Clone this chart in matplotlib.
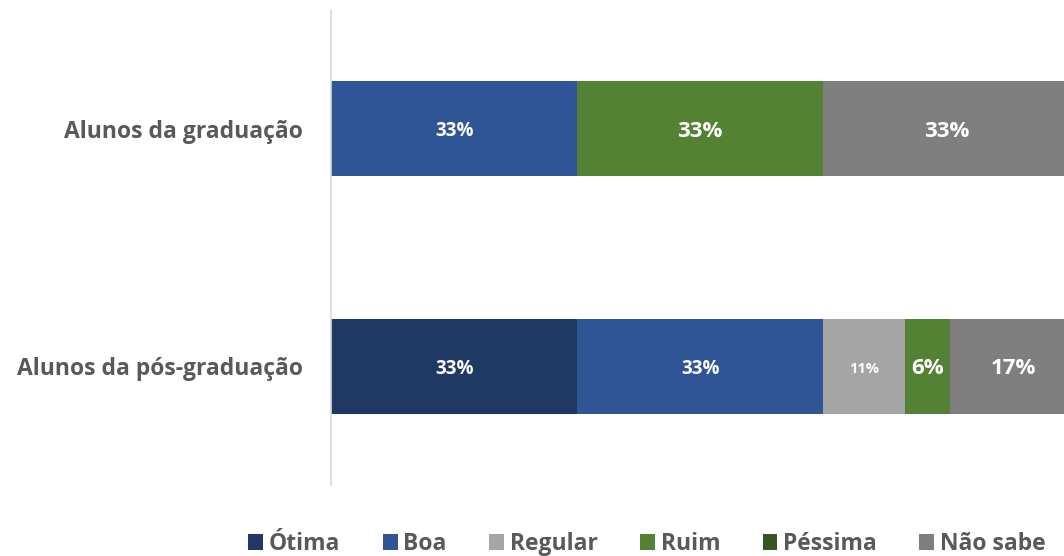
import matplotlib
matplotlib.use("Agg")
import matplotlib.pyplot as plt
from matplotlib.patches import Patch

# Survey answers (percent) per student group
groups = ["Alunos da graduação", "Alunos da pós-graduação"]
categories = ["Ótima", "Boa", "Regular", "Ruim", "Péssima", "Não sabe"]
graduacao = [0, 33, 0, 33, 0, 33]
pos_graduacao = [33, 33, 11, 6, 0, 17]

colors = ["#203864", "#2f5597", "#a5a5a5", "#548235", "#375623", "#7f7f7f"]
# font size of each value label (group, category)
label_sizes = {
    (0, 1): 13.5, (0, 3): 16, (0, 5): 16,
    (1, 0): 13.5, (1, 1): 13.5, (1, 2): 10.5, (1, 3): 16, (1, 5): 16,
}

plt.rcParams["font.family"] = ["Open Sans", "DejaVu Sans"]
plt.rcParams["font.weight"] = "bold"

W, H = 1064, 556
fig = plt.figure(figsize=(W / 100, H / 100), dpi=100)
ax = fig.add_axes([331 / W, (H - 485) / H, 746 / W, 475 / H])

data = [graduacao, pos_graduacao]
ypos = [1, 0]
for gi, (vals, y) in enumerate(zip(data, ypos)):
    left = 0
    for ci, v in enumerate(vals):
        if v > 0:
            ax.barh(y, v, left=left, height=0.4, color=colors[ci], edgecolor="none")
            ax.text(left + v / 2, y - 0.01, f"{v}%", ha="center", va="center",
                    color="white", fontweight="bold",
                    fontsize=label_sizes.get((gi, ci), 13))
        left += v

ax.set_xlim(0, 100)
ax.set_ylim(-0.5, 1.5)
ax.set_yticks(ypos)
ax.set_yticklabels(groups, fontsize=16.5, fontweight="bold", color="#595959")
ax.tick_params(axis="y", length=0, pad=20)
ax.set_xticks([])
for s in ["top", "right", "bottom"]:
    ax.spines[s].set_visible(False)
ax.spines["left"].set_color("#d9d9d9")
ax.spines["left"].set_linewidth(1.2)

handles = [Patch(facecolor=c, edgecolor="none") for c in colors]
fig.legend(handles, categories, loc="center", ncol=6,
           bbox_to_anchor=(647 / W, (H - 544) / H), frameon=False,
           prop={"size": 16.5, "weight": "bold"}, labelcolor="#595959",
           handlelength=0.65, handleheight=0.65, handletextpad=0.25,
           columnspacing=1.85)

fig.savefig("out.png", dpi=100)
